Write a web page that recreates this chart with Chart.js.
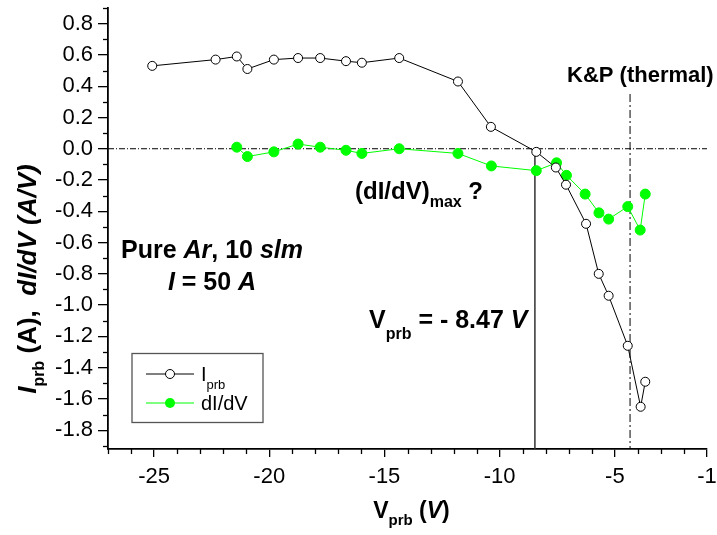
<!DOCTYPE html>
<html>
<head>
<meta charset="utf-8">
<script src="https://cdn.jsdelivr.net/npm/chart.js@4.4.1/dist/chart.umd.min.js"></script>
<style>
  html, body { margin: 0; padding: 0; background: #fff; }
  #wrap { width: 717px; height: 535px; }
</style>
</head>
<body>
<div id="wrap"><canvas id="grafico" width="717" height="535"></canvas></div>
<script>
// I_prb (open circles)
const vPrb = [-25.08, -22.33, -21.41, -20.95, -19.80, -18.75, -17.79, -16.67, -15.98, -14.36, -11.81, -10.38, -8.41, -7.56, -7.12, -6.25, -5.70, -5.27, -4.44, -3.88, -3.68];
const iPrb = [0.53, 0.57, 0.59, 0.51, 0.57, 0.58, 0.58, 0.56, 0.55, 0.58, 0.43, 0.14, -0.02, -0.12, -0.23, -0.48, -0.80, -0.94, -1.26, -1.65, -1.49];
// dI/dV (green dots)
const vDeriv = [-21.41, -20.95, -19.80, -18.75, -17.79, -16.67, -15.98, -14.36, -11.81, -10.36, -8.41, -7.53, -7.10, -6.29, -5.69, -5.27, -4.44, -3.90, -3.68];
const dIdV = [0.01, -0.05, -0.02, 0.03, 0.01, -0.01, -0.03, 0.00, -0.03, -0.11, -0.14, -0.09, -0.17, -0.29, -0.41, -0.45, -0.37, -0.52, -0.29];
// axes
const xTicks = [-25, -20, -15, -10, -5, -1];
const yTicks = [-1.8, -1.6, -1.4, -1.2, -1.0, -0.8, -0.6, -0.4, -0.2, 0.0, 0.2, 0.4, 0.6, 0.8];
const xMin = -27, xMax = -1;
const yMin = -1.92, yMax = 0.9;
// reference lines
const vFloat = -8.47;
const vKP = -4.34;
const kpTop = 0.35;

const FF = "'Liberation Sans', Arial, sans-serif";

function rich(ctx, segs, x, y, align) {
  let w = 0;
  segs.forEach(s => { ctx.font = s.f; s.w = ctx.measureText(s.t).width; w += s.w; });
  let cx = align === 'center' ? x - w / 2 : x;
  segs.forEach(s => { ctx.font = s.f; ctx.fillText(s.t, cx, y + (s.dy || 0)); cx += s.w; });
}

const toPts = (xs, ys) => xs.map((x, i) => ({ x: x, y: ys[i] }));

// ticks menores + textos
const extras = {
  id: 'extras',
  afterDraw(chart) {
    const ctx = chart.ctx;
    const xs = chart.scales.x, ys = chart.scales.y;
    const a = chart.chartArea;
    ctx.save();
    ctx.strokeStyle = '#000';
    ctx.lineWidth = 1.3;
    // minor ticks x
    for (let v = xMin; v <= xMax; v++) {
      if (xTicks.includes(v)) continue;
      const px = Math.round(xs.getPixelForValue(v)) + 0.5;
      ctx.beginPath(); ctx.moveTo(px, a.bottom); ctx.lineTo(px, a.bottom + 5); ctx.stroke();
    }
    // minor ticks y
    for (let k = -19; k <= 9; k += 2) {
      const py = Math.round(ys.getPixelForValue(k / 10)) + 0.5;
      ctx.beginPath(); ctx.moveTo(a.left, py); ctx.lineTo(a.left - 5, py); ctx.stroke();
    }

    ctx.fillStyle = '#000';
    ctx.textBaseline = 'alphabetic';
    ctx.textAlign = 'left';
    const B = s => 'bold ' + s + 'px ' + FF;
    const BI = s => 'italic bold ' + s + 'px ' + FF;
    const R = s => s + 'px ' + FF;

    // x title
    rich(ctx, [
      { t: 'V', f: B(23) },
      { t: 'prb', f: B(15), dy: 7 },
      { t: ' (', f: B(23) },
      { t: 'V', f: BI(23) },
      { t: ')', f: B(23) }
    ], (a.left + a.right) / 2 + 4, 518, 'center');

    // y title
    ctx.save();
    ctx.translate(36, 279);
    ctx.rotate(-Math.PI / 2);
    rich(ctx, [
      { t: 'I', f: BI(26) },
      { t: 'prb', f: B(16), dy: 8 },
      { t: ' (A),  ', f: B(26) },
      { t: 'dI/dV (A/V)', f: BI(26) }
    ], 0, 0, 'center');
    ctx.restore();

    // annotations
    rich(ctx, [
      { t: 'Pure ', f: B(25) }, { t: 'Ar', f: BI(25) }, { t: ', 10 ', f: B(25) }, { t: 'slm', f: BI(25) }
    ], 212, 258, 'center');
    rich(ctx, [
      { t: 'I', f: BI(25) }, { t: ' = 50 ', f: B(25) }, { t: 'A', f: BI(25) }
    ], 212, 290, 'center');
    rich(ctx, [
      { t: '(dI/dV)', f: B(24) }, { t: 'max', f: B(16), dy: 8 }, { t: ' ?', f: B(24) }
    ], 355, 199, 'left');
    rich(ctx, [
      { t: 'V', f: B(25) }, { t: 'prb', f: B(16), dy: 11 }, { t: ' = - 8.47 ', f: B(25) }, { t: 'V', f: BI(25) }
    ], 369, 328, 'left');
    rich(ctx, [{ t: 'K&P (thermal)', f: B(22) }], 567, 82, 'left');

    // legend
    ctx.strokeStyle = '#555';
    ctx.lineWidth = 1.3;
    ctx.strokeRect(132, 353.5, 131, 69);
    ctx.lineWidth = 1;
    ctx.strokeStyle = '#000';
    ctx.beginPath(); ctx.moveTo(146, 374); ctx.lineTo(194, 374); ctx.stroke();
    ctx.fillStyle = '#fff';
    ctx.beginPath(); ctx.arc(170, 374, 4.5, 0, Math.PI * 2); ctx.fill(); ctx.stroke();
    ctx.strokeStyle = '#00ff00';
    ctx.beginPath(); ctx.moveTo(146, 403); ctx.lineTo(194, 403); ctx.stroke();
    ctx.fillStyle = '#00ff00';
    ctx.beginPath(); ctx.arc(170, 403, 5, 0, Math.PI * 2); ctx.fill();
    ctx.fillStyle = '#000';
    rich(ctx, [{ t: 'I', f: R(20) }, { t: 'prb', f: R(13), dy: 8 }], 201, 381, 'left');
    rich(ctx, [{ t: 'dI/dV', f: R(20) }], 201, 410, 'left');
    ctx.restore();
  }
};

new Chart(document.getElementById('grafico').getContext('2d'), {
  type: 'scatter',
  data: {
    datasets: [
      {
        label: 'Iprb',
        data: toPts(vPrb, iPrb),
        showLine: true,
        borderColor: '#000',
        borderWidth: 1,
        backgroundColor: '#fff',
        pointBorderColor: '#000',
        pointBorderWidth: 1,
        pointRadius: 4.5,
        tension: 0
      },
      {
        label: 'dI/dV',
        data: toPts(vDeriv, dIdV),
        showLine: true,
        borderColor: '#00ff00',
        borderWidth: 1,
        backgroundColor: '#00ff00',
        pointBorderColor: '#00ff00',
        pointRadius: 5,
        tension: 0
      },
      {
        label: 'zero',
        data: [{ x: xMin, y: 0 }, { x: xMax, y: 0 }],
        showLine: true,
        borderColor: '#000',
        borderWidth: 1,
        borderDash: [6, 2, 1, 2],
        pointRadius: 0
      },
      {
        label: 'Vf',
        data: [{ x: vFloat, y: 0 }, { x: vFloat, y: yMin }],
        showLine: true,
        borderColor: '#333',
        borderWidth: 1.5,
        pointRadius: 0
      },
      {
        label: 'KP',
        data: [{ x: vKP, y: kpTop }, { x: vKP, y: yMin }],
        showLine: true,
        borderColor: '#000',
        borderWidth: 1,
        borderDash: [8, 3, 2, 3],
        pointRadius: 0
      }
    ]
  },
  options: {
    responsive: false,
    animation: false,
    devicePixelRatio: 1,
    layout: { padding: { top: 8, left: 0, right: 10, bottom: 0 } },
    plugins: {
      legend: { display: false },
      tooltip: { enabled: false }
    },
    scales: {
      x: {
        type: 'linear',
        min: xMin, max: xMax,
        afterBuildTicks: s => { s.ticks = xTicks.map(v => ({ value: v })); },
        afterFit: s => { s.height = 86; s.paddingLeft = 0; s.paddingRight = 0; },
        grid: { drawOnChartArea: false, drawTicks: true, tickLength: 8, color: '#000', lineWidth: 1.3 },
        border: { color: '#000', width: 1.8 },
        ticks: {
          autoSkip: false, maxRotation: 0, padding: 7,
          color: '#000',
          font: { family: FF, size: 22 },
          callback: v => String(v)
        }
      },
      y: {
        type: 'linear',
        min: yMin, max: yMax,
        afterBuildTicks: s => { s.ticks = yTicks.map(v => ({ value: v })); },
        afterFit: s => { s.width = 108; s.paddingTop = 0; s.paddingBottom = 0; },
        grid: { drawOnChartArea: false, drawTicks: true, tickLength: 10, color: '#000', lineWidth: 1.3 },
        border: { color: '#000', width: 1.8 },
        ticks: {
          autoSkip: false, padding: 5,
          color: '#000',
          font: { family: FF, size: 22 },
          callback: v => Number(v).toFixed(1)
        }
      }
    }
  },
  plugins: [extras]
});
</script>
</body>
</html>
